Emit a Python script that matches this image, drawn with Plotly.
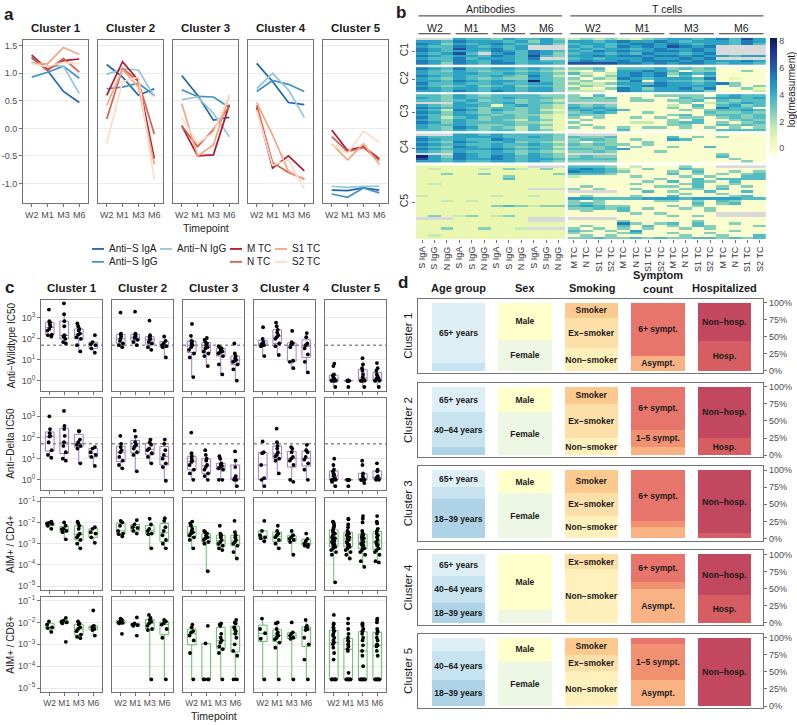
import plotly.graph_objects as go

W, H = 797, 725
FONT = "Liberation Sans, Arial, Helvetica, sans-serif"
GRID = "#ebebeb"
BORDER = "#737373"
TICKC = "#4d4d4d"
TXT = "#1a1a1a"

# ---------------- data ----------------
TIMEPOINTS = ["W2", "M1", "M3", "M6"]
CLUSTERS = ["Cluster 1", "Cluster 2", "Cluster 3", "Cluster 4", "Cluster 5"]

# Panel a: scaled mean trajectories (rows = series, cols = timepoints)
A_SERIES = ["Anti−S IgA", "Anti−S IgG", "Anti−N IgG", "M TC", "N TC", "S1 TC", "S2 TC"]
A_COLORS = ["#2166ac", "#4393c3", "#92c5de", "#b2182b", "#d6604d", "#f4a582", "#fddbc7"]
A_CLUSTER1 = [[1.28, 1.05, 0.67, 0.47], [0.93, 1.02, 1.13, 0.91], [1.20, 1.13, 1.13, 0.63],
              [1.33, 1.07, 1.23, 1.26], [1.30, 1.05, 1.27, 1.02], [1.18, 1.17, 1.47, 1.34],
              [1.17, 1.12, 1.20, 1.17]]
A_CLUSTER2 = [[1.16, 0.93, 0.60, 0.72], [0.72, 0.75, 0.82, 0.60], [0.98, 1.08, 1.06, 0.58],
              [0.60, 1.21, 0.87, -0.55], [0.17, 1.09, 0.85, -0.10], [0.42, 1.07, 0.75, -0.65],
              [-0.27, 0.85, 0.93, -0.93]]
A_CLUSTER3 = [[0.96, 0.60, 0.15, 0.20], [0.70, 0.58, 0.57, 0.38], [0.52, 0.57, 0.27, -0.15],
              [0.05, -0.50, -0.48, 0.43], [0.05, -0.33, -0.02, 0.40], [0.45, -0.50, -0.30, 0.60],
              [0.20, -0.27, -0.08, 0.60]]
A_CLUSTER4 = [[1.18, 0.85, 0.47, 0.43], [0.67, 0.87, 0.80, 0.67], [0.72, 1.00, 0.70, 0.20],
              [0.38, -0.72, -0.50, -0.77], [0.42, -0.62, -0.80, -0.92], [0.47, -0.12, -0.78, -0.93],
              [0.33, -0.67, -0.57, -1.10]]
A_CLUSTER5 = [[-1.12, -1.13, -1.08, -1.12], [-1.19, -1.25, -1.08, -1.17], [-1.05, -1.07, -1.05, -1.05],
              [-0.03, -0.40, -0.33, -0.55], [-0.15, -0.42, -0.35, -0.58], [-0.28, -0.57, -0.28, -0.65],
              [-0.30, -0.45, -0.05, -0.25]]
A_ALL = [A_CLUSTER1, A_CLUSTER2, A_CLUSTER3, A_CLUSTER4, A_CLUSTER5]
A_YTICKS = [-1.0, -0.5, 0.0, 0.5, 1.0, 1.5]
A_YTICKTEXT = ["-1.0", "-0.5", "0.0", "0.5", "1.0", "1.5"]

# Panel b: heatmap, digit = level index into HM_LEVELS, '.' = missing
HM_LEVELS = [-0.3, 0.6, 1.6, 2.6, 3.5, 4.4, 5.3, 6.4, 7.8]
HM_AB_COLS = ["S IgA", "S IgG", "N IgG"] * 4
HM_TC_COLS = ["M TC", "N TC", "S1 TC", "S2 TC"] * 4
HM_ROWLABELS = ["C1", "C2", "C3", "C4", "C5"]
HM_C1 = ["... 544 354 453|2323 2134 5545 6475",
         "554 655 545 354|5545 6556 5455 5465",
         "653 545 654 453|4554 5665 6545 5464",
         "544 654 545 ...|5454 6565 7656 ....",
         "654 755 645 ...|4545 5456 5565 ....",
         "654 554 654 654|5465 6556 6565 ....",
         "545 74. 564 653|4554 5465 5456 ....",
         "654 554 654 743|5565 6656 6565 5455",
         "544 645 554 6..|4545 5565 5656 ....",
         "654 654 654 544|5655 6566 6565 5565",
         "653 654 664 554|7777 6656 5665 4554"]
HM_C2 = ["654 644 554 543|3340 4445 3434 0000",
         "543 543 443 432|2030 5565 4033 0030",
         "544 554 454 543|4202 5656 3545 0000",
         "654 544 543 642|0303 5656 2404 0000",
         "543 543 433 543|3032 6545 5546 0100",
         "554 654 554 843|2300 4605 4434 0000",
         "644 544 544 553|3223 5546 5545 6300",
         "543 453 453 443|1320 4566 5555 0303",
         "654 554 554 553|3103 6535 5646 0031",
         "554 654 654 553|2220 6545 5553 0002"]
HM_C3 = ["443 543 444 433|3040 0003 3330 4544",
         "543 544 454 443|3434 0300 0434 5545",
         "443 453 443 432|3333 0330 3340 4344",
         "... 544 453 443|.... 0000 0302 3454",
         "543 554 145 432|4343 0000 2040 4534",
         "654 543 443 432|5454 0000 3030 6440",
         "542 653 543 421|4545 4000 0303 4454",
         "653 543 433 432|3454 0030 0004 3343",
         "543 554 343 321|4330 0000 3403 4434",
         "642 453 443 421|3030 0303 0330 3434",
         "543 543 432 431|0300 0000 3040 0343",
         "653 544 443 321|3000 0220 3440 3034",
         "544 543 343 431|0300 0000 3300 4343",
         "543 653 432 421|3030 3033 0303 0303",
         "443 543 442 431|0000 4000 0000 4444"]
HM_C4 = ["... 554 544 443|.... 0000 0000 0000",
         "544 555 544 543|4334 0000 4030 3000",
         "654 544 654 443|3443 0300 5400 0000",
         "543 654 453 432|3033 0030 0000 0000",
         "654 544 544 543|4343 3030 0000 0000",
         "543 654 543 442|3334 0300 3004 0000",
         "654 555 654 543|4434 5000 0000 0000",
         "543 544 543 432|3343 0003 0000 0000",
         "... 654 553 543|.... 0000 0000 3000",
         "853 654 654 543|3433 0000 0000 4000",
         "754 655 654 554|4444 0000 0000 0300",
         "554 544 554 543|3333 0000 0000 0030"]
HM_C5 = ["111 111 111 ...|4443 0200 0300 ....",
         "121 112 132 131|5654 2030 0430 0000",
         "111 111 111 111|6554 3000 3040 0303",
         "113 113 111 113|4443 0000 4030 3034",
         "111 111 131 111|2000 0300 0303 0044",
         "111 111 141 111|0000 0003 0040 4444",
         "111 111 111 111|0000 0030 4043 0400",
         "121 111 111 111|0000 0300 0340 0300",
         "111 111 111 111|0300 0003 3040 3030",
         "111 111 111 ...|3030 0300 0330 4000",
         "111 111 111 111|.... 0040 3004 0040",
         "111 111 111 111|0000 0000 0300 3000",
         "211 111 211 211|0300 0300 4000 0340",
         "111 111 111 111|5544 4455 5455 5544",
         "112 121 111 111|3030 0003 3030 4300",
         "111 111 111 111|3430 0000 0040 3400",
         "111 111 343 233|4543 3000 3030 0000",
         "111 111 111 111|3343 4030 0303 0000",
         "111 111 111 111|0300 4000 0003 0000",
         "111 111 111 111|0000 0303 0000 ....",
         "131 231 231 111|0000 0000 3030 ....",
         "... 111 111 ...|.... 0000 0000 0000",
         "111 111 111 ...|0000 3000 0030 0000",
         "111 111 111 111|0000 6303 4040 0300",
         "111 111 111 111|0300 4040 3043 0003",
         "113 113 112 ...|3030 3030 0303 0000",
         "111 111 111 111|4303 0500 0000 0300",
         "111 111 111 111|3000 3400 3003 0000",
         "121 111 111 111|0303 0000 0300 3004",
         "111 111 111 111|3343 3434 3344 3434"]
HM_BLOCKS = [HM_C1, HM_C2, HM_C3, HM_C4, HM_C5]
YLGNBU = ["#ffffd9", "#edf8b1", "#c7e9b4", "#7fcdbb", "#41b6c4", "#1d91c0", "#225ea8", "#253494", "#081d58"]

# Panel c: per cluster, per timepoint
C_ROW_TITLES = ["Anti−Wildtype IC50", "Anti−Delta IC50", "AIM+ / CD4+", "AIM+ / CD8+"]
C_WT = [
    [[2500, 700, 600, 500, 400, 300, 250, 160, 150, 130], [5000, 1500, 700, 400, 150, 140, 130, 100, 70, 60],
     [550, 400, 300, 250, 180, 160, 120, 100, 50, 25], [150, 70, 55, 50, 35, 22]],
    [[1800, 180, 160, 130, 100, 80, 60, 50, 40], [2000, 180, 160, 140, 120, 110, 90, 70, 50],
     [750, 150, 120, 100, 90, 70, 60, 40, 30], [130, 80, 60, 50, 45, 40, 13]],
    [[520, 140, 80, 75, 60, 50, 40, 30, 20, 13, 1.5], [110, 90, 70, 60, 50, 40, 35, 25, 20, 15, 5],
     [45, 40, 35, 30, 25, 22, 20, 15, 6, 2], [60, 20, 15, 12, 10, 9, 8, 6, 3.5, 1]],
    [[360, 100, 70, 60, 55, 50, 45, 15], [600, 400, 270, 200, 150, 120, 100, 60, 45, 17],
     [240, 70, 60, 55, 40, 9, 8, 4], [190, 120, 60, 50, 35, 18, 8, 2.5]],
    [[6.5, 5, 2, 1.8, 1.5, 1.3, 1.2, 1, 1, 1, 1, 1, 0.5], [1, 1, 1, 1, 1, 1, 1, 1, 0.5],
     [12, 6, 4, 3, 2, 1.5, 1.2, 1, 1, 1, 1, 0.5], [7, 4, 3, 2, 1.6, 1.4, 1.3, 1.2, 1, 1, 1, 0.5]],
]
C_DELTA = [
    [[1000, 250, 160, 120, 110, 60, 25, 15, 11], [1800, 350, 250, 120, 60, 40, 20, 10, 8],
     [200, 200, 80, 60, 45, 40, 30, 6], [35, 30, 20, 15, 12, 4.5]],
    [[120, 50, 35, 25, 20, 12, 8, 5, 3.5], [210, 110, 60, 45, 38, 30, 20, 15, 2.5],
     [80, 60, 45, 30, 25, 18, 12, 6], [80, 50, 25, 15, 10, 6, 4, 0.9]],
    [[170, 18, 13, 10, 8, 7, 5, 3, 2, 1], [25, 15, 10, 8, 5, 4, 3, 2, 1.5, 1],
     [13, 10, 6, 5, 4.5, 4, 3.5, 3, 1, 1], [22, 8, 4, 1.5, 1.2, 1.1, 1, 1, 0.5]],
    [[65, 20, 18, 5, 1.2, 1, 0.5], [260, 60, 40, 30, 20, 15, 13, 10, 8, 2],
     [35, 30, 20, 12, 10, 8, 5, 1, 0.8], [45, 25, 20, 12, 9, 6, 3, 1]],
    [[10, 5, 3, 2.5, 2, 1.8, 1.5, 1.2, 1, 1, 1, 0.8, 0.5], [1, 1, 1, 1, 1, 1, 1, 1, 0.5],
     [8, 5, 2, 1.5, 1.2, 1, 1, 1, 1, 0.7], [6, 3, 2.5, 1.5, 1.3, 1.2, 1.1, 1, 1]],
]
C_CD4 = [
    [[0.011, 0.0095, 0.009, 0.0085, 0.007, 0.005], [0.01, 0.007, 0.005, 0.0048, 0.004, 0.0035, 0.0016],
     [0.011, 0.009, 0.007, 0.005, 0.003, 0.0025, 0.002, 0.0015, 0.001, 0.0006],
     [0.006, 0.005, 0.0035, 0.003, 0.002, 0.0011]],
    [[0.012, 0.01, 0.007, 0.004, 0.003, 0.0028, 0.0022], [0.013, 0.008, 0.006, 0.0055, 0.004, 0.003],
     [0.015, 0.008, 0.005, 0.004, 0.003, 0.0028, 0.0006],
     [0.016, 0.012, 0.006, 0.004, 0.0025, 0.0015, 0.001, 0.0006]],
    [[0.011, 0.009, 0.007, 0.005, 0.004, 0.0035, 0.003, 0.0025, 0.002, 0.0015, 0.0006],
     [0.004, 0.0035, 0.003, 0.0025, 0.002, 0.0018, 0.0015, 0.0012, 0.001, 0.00005],
     [0.007, 0.003, 0.0025, 0.002, 0.0015, 0.0012, 0.001, 0.0008, 0.0006, 0.0005],
     [0.012, 0.0035, 0.0025, 0.002, 0.0015, 0.0012, 0.001, 0.0008, 0.0004, 0.0002]],
    [[0.012, 0.004, 0.0025, 0.002, 0.0018, 0.0013], [0.007, 0.004, 0.003, 0.0025, 0.002, 0.0015, 0.001, 0.0006],
     [0.004, 0.0025, 0.002, 0.0017, 0.0015, 0.0012, 0.0003],
     [0.003, 0.0017, 0.0013, 0.001, 0.0009, 0.0008, 0.0007]],
    [[0.011, 0.01, 0.009, 0.007, 0.006, 0.005, 0.004, 0.0035, 0.003, 0.0025, 0.002, 0.0018, 0.0015, 0.0013,
      0.0012, 0.001, 0.0009, 0.0008, 0.0007, 0.0006, 0.0005, 0.0004, 0.0003, 0.000015],
     [0.015, 0.014, 0.008, 0.006, 0.004, 0.0035, 0.003, 0.0028, 0.0025, 0.002, 0.0018, 0.0015, 0.0012, 0.001,
      0.0009, 0.0008, 0.0007, 0.0006, 0.0005, 0.0004, 0.0003, 0.0002],
     [0.02, 0.015, 0.01, 0.004, 0.003, 0.0027, 0.0025, 0.002, 0.0018, 0.0015, 0.0012, 0.001, 0.0009, 0.0008,
      0.0007, 0.0006, 0.0005, 0.0004, 0.0003, 0.00015, 0.00008],
     [0.02, 0.011, 0.009, 0.005, 0.004, 0.003, 0.0025, 0.002, 0.0015, 0.0012, 0.001, 0.0009, 0.0008, 0.0006,
      0.0005, 0.0004, 0.0003, 0.00015, 0.00013]],
]
C_CD8 = [
    [[0.011, 0.008, 0.006, 0.0055, 0.0037], [0.016, 0.012, 0.011, 0.01, 0.009, 0.0013],
     [0.011, 0.009, 0.008, 0.006, 0.005, 0.004, 0.0028, 0.0022, 0.0019],
     [0.035, 0.007, 0.0065, 0.006, 0.005, 0.0045, 0.0025]],
    [[0.015, 0.013, 0.011, 0.01, 0.0095, 0.009, 0.003], [0.017, 0.009, 0.008, 0.0075, 0.007, 0.0025],
     [0.022, 0.016, 0.013, 0.011, 0.009, 0.007, 0.005, 0.0045, 0.000025],
     [0.013, 0.011, 0.009, 0.008, 0.005, 0.002, 0.000025]],
    [[0.008, 0.006, 0.004, 0.0035, 0.0025, 0.0015, 0.0004, 0.000025],
     [0.007, 0.0011, 0.000025, 0.000025, 0.000025, 0.000025],
     [0.009, 0.008, 0.007, 0.003, 0.002, 0.0015, 0.0012, 0.0008, 0.0006, 0.0004, 0.000025],
     [0.013, 0.01, 0.009, 0.006, 0.005, 0.004, 0.003, 0.002, 0.001, 0.0005, 0.0003, 0.000025, 0.000025]],
    [[0.015, 0.005, 0.0032, 0.0018, 0.000025],
     [0.01, 0.009, 0.005, 0.0035, 0.003, 0.0025, 0.002, 0.0017, 0.0012, 0.0007, 0.000025],
     [0.01, 0.0035, 0.003, 0.0025, 0.002, 0.0018, 0.000025],
     [0.013, 0.007, 0.006, 0.005, 0.0045, 0.002, 0.001, 0.0002, 0.000025]],
    [[0.022, 0.009, 0.008, 0.006, 0.005, 0.004, 0.003, 0.0025, 0.002, 0.0015, 0.0012, 0.001, 0.0007, 0.0004,
      0.0002, 0.000025, 0.000025, 0.000025, 0.000025, 0.000025, 0.000025],
     [0.015, 0.009, 0.005, 0.003, 0.002, 0.0015, 0.0013, 0.001, 0.0008, 0.0006, 0.0005, 0.00005,
      0.000025, 0.000025, 0.000025, 0.000025, 0.000025, 0.000025, 0.000025],
     [0.009, 0.008, 0.007, 0.005, 0.004, 0.003, 0.002, 0.0015, 0.0009, 0.0005, 0.0003, 0.0001,
      0.000025, 0.000025, 0.000025, 0.000025, 0.000025, 0.000025, 0.000025],
     [0.015, 0.013, 0.01, 0.005, 0.004, 0.003, 0.002, 0.0015, 0.001, 0.0009, 0.0008, 0.0005, 0.0003,
      0.000025, 0.000025, 0.000025, 0.000025, 0.000025, 0.000025, 0.000025]],
]
C_ROWS = [C_WT, C_DELTA, C_CD4, C_CD8]
C_BOX_COLORS = ["#a07cc8", "#a07cc8", "#66bb66", "#66bb66"]
C_THRESHOLD = 50

# Panel d: composition (fractions, bottom -> top)
D_CATEGORIES = ["Age group", "Sex", "Smoking", "Symptom<br>count", "Hospitalized"]
D_LEVELS = [["18–39 years", "40–64 years", "65+ years"], ["Female", "Male"],
            ["Non−smoker", "Ex−smoker", "Smoker"], ["Asympt.", "1–5 sympt.", "6+ sympt."],
            ["Hosp.", "Non−hosp."]]
D_COLORS = [["#aed3e6", "#c6e3ef", "#dfeff6"], ["#eef6e4", "#ffffcc"],
            ["#fff0bc", "#fde0a8", "#fdc98e"], ["#f9b284", "#f29072", "#e8756b"],
            ["#d65e62", "#c1485f"]]
D_CLUSTER1 = [[0.00, 0.11, 0.89], [0.45, 0.55], [0.33, 0.45, 0.22], [0.22, 0.00, 0.78], [0.44, 0.56]]
D_CLUSTER2 = [[0.125, 0.50, 0.375], [0.625, 0.375], [0.25, 0.50, 0.25], [0.125, 0.25, 0.625], [0.25, 0.75]]
D_CLUSTER3 = [[0.58, 0.17, 0.25], [0.66, 0.34], [0.33, 0.34, 0.33], [0.17, 0.08, 0.75], [0.08, 0.92]]
D_CLUSTER4 = [[0.29, 0.40, 0.31], [0.19, 0.81], [0.78, 0.22, 0.00], [0.50, 0.09, 0.41], [0.40, 0.60]]
D_CLUSTER5 = [[0.38, 0.42, 0.20], [0.66, 0.34], [0.51, 0.24, 0.25], [0.38, 0.53, 0.09], [0.00, 1.00]]
D_ALL = [D_CLUSTER1, D_CLUSTER2, D_CLUSTER3, D_CLUSTER4, D_CLUSTER5]
D_LABEL_MIN = 0.215


# ---------------- helpers ----------------
def fx(p):
    return p / W


def fy(p):
    return 1 - p / H


fig = go.Figure()
layout = {}
annotations = []
shapes = []
_n = [0]


def new_axes(x0, x1, y0, y1, xa, ya):
    _n[0] += 1
    n = _n[0]
    sfx = "" if n == 1 else str(n)
    xa = dict(xa)
    ya = dict(ya)
    xa.update(domain=[fx(x0), fx(x1)], anchor="y" + sfx)
    ya.update(domain=[fy(y1), fy(y0)], anchor="x" + sfx)
    layout["xaxis" + sfx] = xa
    layout["yaxis" + sfx] = ya
    return "x" + sfx, "y" + sfx


def frame_axis(**kw):
    d = dict(showline=True, mirror=True, linecolor=BORDER, linewidth=1, zeroline=False, showgrid=False,
             ticks="outside", ticklen=3, tickcolor=BORDER, tickwidth=1, fixedrange=True, tickangle=0,
             tickfont=dict(size=9, color=TICKC, family=FONT))
    d.update(kw)
    return d


def text(x, y, s, size=10, bold=False, angle=0, color=TXT, xanchor="center", xref="paper", yref="paper"):
    annotations.append(dict(x=x, y=y, xref=xref, yref=yref, text=(f"<b>{s}</b>" if bold else s),
                            showarrow=False, textangle=angle, xanchor=xanchor, yanchor="middle",
                            font=dict(size=size, color=color, family=FONT)))


# ---------------- panel a ----------------
text(fx(9), fy(12), "a", size=17, bold=True)
for ci in range(5):
    x0 = 23 + 75 * ci
    xr, yr = new_axes(
        x0, x0 + 65, 37, 202,
        frame_axis(range=[-0.55, 3.55], tickvals=[0, 1, 2, 3], ticktext=TIMEPOINTS),
        frame_axis(range=[-1.36, 1.61], tickvals=A_YTICKS, ticktext=A_YTICKTEXT, showgrid=True,
                   gridcolor=GRID, gridwidth=1, showticklabels=(ci == 0), ticks=("outside" if ci == 0 else "")))
    for si, vals in enumerate(A_ALL[ci]):
        fig.add_trace(go.Scatter(x=[0, 1, 2, 3], y=vals, mode="lines", name=A_SERIES[si],
                                 line=dict(color=A_COLORS[si], width=1.7), xaxis=xr, yaxis=yr,
                                 showlegend=False, hoverinfo="skip"))
    text(fx(x0 + 32.5), fy(25), CLUSTERS[ci], size=11.5, bold=True)
text(fx(206), fy(227), "Timepoint", size=10.5)

# manual legend for panel a
LEG_SLOTS = [(92, 248), (92, 261), (160, 248), (230, 248), (230, 261), (275, 248), (275, 261)]
for si, (lx, ly) in enumerate(LEG_SLOTS):
    shapes.append(dict(type="line", xref="paper", yref="paper", x0=fx(lx), x1=fx(lx + 12), y0=fy(ly), y1=fy(ly),
                       line=dict(color=A_COLORS[si], width=1.8)))
    text(fx(lx + 15), fy(ly), A_SERIES[si], size=10, xanchor="left")

# ---------------- panel b ----------------
text(fx(401), fy(10), "b", size=17, bold=True)
AB_X = list(range(12))
TC_X = [12.25 + i for i in range(16)]
n_rows_total = sum(len(b) for b in HM_BLOCKS) + len(HM_BLOCKS) - 1
xr_b, yr_b = new_axes(
    416, 766, 35, 238,
    dict(range=[-0.5, 27.75], tickvals=AB_X + TC_X, ticktext=HM_AB_COLS + HM_TC_COLS, tickangle=-90,
         showline=False, zeroline=False, showgrid=False, ticks="outside", ticklen=3, tickcolor=BORDER,
         fixedrange=True, tickfont=dict(size=9, color="#333333", family=FONT)),
    dict(range=[n_rows_total - 0.5, -0.5], showline=False, zeroline=False, showgrid=False, ticks="outside",
         ticklen=3, tickcolor=BORDER, fixedrange=True, tickangle=-90,
         tickfont=dict(size=10.5, color="#333333", family=FONT)))
row0 = 0
ytv = []
for blk in HM_BLOCKS:
    n = len(blk)
    ys = list(range(row0, row0 + n))
    zab, ztc = [], []
    for s in blk:
        a, t = s.split("|")
        a = a.replace(" ", "")
        t = t.replace(" ", "")
        zab.append([None if ch == "." else HM_LEVELS[int(ch)] for ch in a])
        ztc.append([None if ch == "." else HM_LEVELS[int(ch)] for ch in t])
    for xs, z in ((AB_X, zab), (TC_X, ztc)):
        fig.add_trace(go.Heatmap(x=xs, y=ys, z=z, coloraxis="coloraxis", xaxis=xr_b, yaxis=yr_b,
                                 hoverinfo="skip"))
        miss = [[1 if v is None else None for v in r] for r in z]
        fig.add_trace(go.Heatmap(x=xs, y=ys, z=miss, colorscale=[[0, "#d9d9d9"], [1, "#d9d9d9"]], zmin=0,
                                 zmax=1, showscale=False, xaxis=xr_b, yaxis=yr_b, hoverinfo="skip"))
    ytv.append(row0 + (n - 1) / 2)
    row0 += n + 1
layout[yr_b.replace("y", "yaxis")].update(tickvals=ytv, ticktext=HM_ROWLABELS)

# headers
text(5.5, fy(6), "Antibodies", size=10.5, xref=xr_b)
text(19.75, fy(6), "T cells", size=10.5, xref=xr_b)
for (g0, g1) in [(-0.5, 11.5), (11.75, 27.75)]:
    shapes.append(dict(type="line", xref=xr_b, yref="paper", x0=g0 + 0.2, x1=g1 - 0.2, y0=fy(13), y1=fy(13),
                       line=dict(color="#333333", width=1)))
for gi, tp in enumerate(TIMEPOINTS):
    a0 = -0.5 + 3 * gi
    t0 = 11.75 + 4 * gi
    for g0, g1 in [(a0, a0 + 3), (t0, t0 + 4)]:
        text((g0 + g1) / 2, fy(25), tp, size=10.5, xref=xr_b)
        shapes.append(dict(type="line", xref=xr_b, yref="paper", x0=g0 + 0.2, x1=g1 - 0.2, y0=fy(31), y1=fy(31),
                           line=dict(color="#333333", width=1)))

layout["coloraxis"] = dict(
    colorscale=[[i / 8, c] for i, c in enumerate(YLGNBU)], cmin=-0.6, cmax=8.2,
    colorbar=dict(x=fx(770), xanchor="left", xpad=0, y=fy(95), yanchor="middle", len=118, lenmode="pixels",
                  thickness=7, thicknessmode="pixels", outlinewidth=0, tickvals=[0, 2, 4, 6, 8], ticks="",
                  ypad=0, tickfont=dict(size=9, color=TICKC, family=FONT)))
text(fx(791), fy(87), "log(measurment)", size=10, angle=-90)

# ---------------- panel c ----------------
text(fx(9), fy(287), "c", size=17, bold=True)
C_ROW_Y = [(299, 391), (398, 491), (499, 592), (599, 695)]
for ri in range(4):
    y0, y1 = C_ROW_Y[ri]
    if ri < 2:
        yrng = [-0.48, 3.88]
        tv = [1, 10, 100, 1000]
        tt = ["10<sup>0</sup>", "10<sup>1</sup>", "10<sup>2</sup>", "10<sup>3</sup>"]
    else:
        yrng = [-5.19, -0.84]
        tv = [1e-5, 1e-4, 1e-3, 1e-2, 1e-1]
        tt = ["10<sup>−5</sup>", "10<sup>−4</sup>", "10<sup>−3</sup>", "10<sup>−2</sup>", "10<sup>−1</sup>"]
    for ci in range(5):
        x0 = 41 + 71 * ci
        xr, yr = new_axes(
            x0, x0 + 61, y0, y1,
            frame_axis(range=[-0.6, 3.6], tickvals=[0, 1, 2, 3], ticktext=TIMEPOINTS, showticklabels=(ri == 3),
                       tickfont=dict(size=8.5, color=TICKC, family=FONT)),
            frame_axis(type="log", range=yrng, tickvals=tv, ticktext=tt, showgrid=True, gridcolor=GRID,
                       showticklabels=(ci == 0), ticks=("outside" if ci == 0 else "")))
        if ri < 2:
            shapes.append(dict(type="line", xref=xr + " domain", yref=yr, x0=0, x1=1, y0=C_THRESHOLD,
                               y1=C_THRESHOLD, line=dict(color="#555555", width=1, dash="dot"), layer="below"))
        for ti in range(4):
            vals = C_ROWS[ri][ci][ti]
            fig.add_trace(go.Box(x=[ti] * len(vals), y=vals, boxpoints="all", jitter=0.7, pointpos=0,
                                 width=0.6, whiskerwidth=0, fillcolor="rgba(255,255,255,0)",
                                 line=dict(color=C_BOX_COLORS[ri], width=1),
                                 marker=dict(color="black", size=3.8, line=dict(width=0)),
                                 xaxis=xr, yaxis=yr, showlegend=False, hoverinfo="skip"))
        if ri == 0:
            text(fx(x0 + 30.5), fy(287), CLUSTERS[ci], size=11.5, bold=True)
    text(fx(11), fy((y0 + y1) / 2), C_ROW_TITLES[ri], size=10, angle=-90)
text(fx(214), fy(719), "Timepoint", size=10.5)

# ---------------- panel d ----------------
text(fx(403), fy(282), "d", size=17, bold=True)
D_BOX_Y = [(298, 373), (383, 458), (467, 542), (552, 627), (636, 711)]
first_xr = None
for ci in range(5):
    y0, y1 = D_BOX_Y[ci]
    xr, yr = new_axes(
        418, 763, y0, y1,
        dict(range=[-0.61, 4.58], showline=True, mirror=True, linecolor=BORDER, linewidth=1.2, ticks="",
             showticklabels=False, showgrid=False, zeroline=False, fixedrange=True),
        frame_axis(range=[-0.03, 1.058], side="right", tickvals=[0, 0.25, 0.5, 0.75, 1.0],
                   ticktext=["0%", "25%", "50%", "75%", "100%"], linewidth=1.2))
    if first_xr is None:
        first_xr = xr
    for ki in range(5):
        for li, v in enumerate(D_ALL[ci][ki]):
            bar = dict(x=[ki], y=[v], width=0.8, marker=dict(color=D_COLORS[ki][li], line=dict(width=0)),
                       xaxis=xr, yaxis=yr, showlegend=False, hoverinfo="skip")
            if v >= D_LABEL_MIN:
                bar.update(text=["<b>" + D_LEVELS[ki][li] + "</b>"], textposition="inside",
                           insidetextanchor="middle", textangle=0,
                           textfont=dict(size=8.5, color="#1a1a1a", family=FONT))
            else:
                bar.update(textposition="none")
            fig.add_trace(go.Bar(**bar))
    text(fx(408), fy((y0 + y1) / 2), CLUSTERS[ci], size=11.5, angle=-90)
for ki, cat in enumerate(D_CATEGORIES):
    yy = 281.5 if "<br>" in cat else 287
    text(ki, fy(yy), cat, size=11, bold=True, xref=first_xr)

layout.update(dict(
    width=W, height=H, margin=dict(l=0, r=0, t=0, b=0), paper_bgcolor="white", plot_bgcolor="white",
    showlegend=False, barmode="stack", boxmode="overlay", hovermode=False,
    font=dict(family=FONT, size=10, color=TXT),
    uniformtext=dict(minsize=8.5, mode="show"),
    annotations=annotations, shapes=shapes))
fig.update_layout(layout)
fig.write_html("out.html", config={"displayModeBar": False},
               post_script="document.body.style.margin='0';")
